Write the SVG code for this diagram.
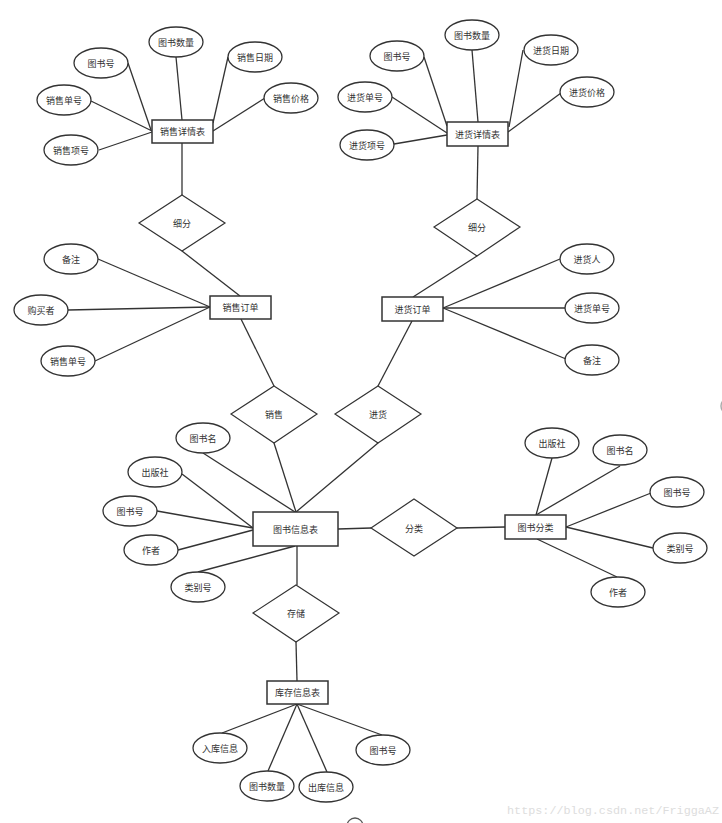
<svg xmlns="http://www.w3.org/2000/svg" width="722" height="823" viewBox="0 0 722 823">
<style>
.e{fill:#fff;stroke:#333;stroke-width:1.3}
.r{fill:#fff;stroke:#333;stroke-width:1.5}
.d{fill:#fff;stroke:#333;stroke-width:1.2}
.c line{stroke:#333;stroke-width:1.3}
text{font-family:"Noto Sans CJK SC","Noto Sans",sans-serif;font-size:9px;fill:#333;text-anchor:middle;dominant-baseline:central}
.wm{font-family:"Liberation Mono",monospace;font-size:11.5px;fill:#ddd;text-anchor:start;dominant-baseline:auto}
</style>
<rect width="722" height="823" fill="#fff"/>
<g id="connectors" class="c">
<line x1="128" y1="63" x2="151" y2="130"/>
<line x1="176" y1="57" x2="182" y2="120"/>
<line x1="228" y1="57" x2="213" y2="123"/>
<line x1="265" y1="98" x2="213" y2="131"/>
<line x1="91" y1="101" x2="152" y2="131"/>
<line x1="99" y1="150" x2="152" y2="132"/>
<line x1="182" y1="143" x2="182" y2="195"/>
<line x1="182" y1="251" x2="240" y2="296"/>
<line x1="98" y1="259" x2="210" y2="307"/>
<line x1="68" y1="310" x2="210" y2="307"/>
<line x1="95" y1="361" x2="210" y2="307"/>
<line x1="241" y1="319" x2="274" y2="386"/>
<line x1="424" y1="57" x2="447" y2="126"/>
<line x1="472" y1="50" x2="478" y2="122"/>
<line x1="523" y1="50" x2="509" y2="127"/>
<line x1="561" y1="93" x2="508" y2="132"/>
<line x1="392" y1="97" x2="447" y2="133"/>
<line x1="394" y1="144" x2="447" y2="135"/>
<line x1="478" y1="146" x2="477" y2="199"/>
<line x1="477" y1="256" x2="413" y2="297"/>
<line x1="443" y1="308" x2="560" y2="259"/>
<line x1="443" y1="308" x2="566" y2="308"/>
<line x1="443" y1="308" x2="566" y2="359"/>
<line x1="412" y1="321" x2="378" y2="386"/>
<line x1="274" y1="443" x2="296" y2="512"/>
<line x1="378" y1="443" x2="296" y2="512"/>
<line x1="203" y1="453" x2="295" y2="512"/>
<line x1="182" y1="474" x2="253" y2="528"/>
<line x1="157" y1="511" x2="253" y2="528"/>
<line x1="178" y1="550" x2="253" y2="530"/>
<line x1="198" y1="572" x2="295" y2="546"/>
<line x1="297" y1="546" x2="297" y2="585"/>
<line x1="338" y1="529" x2="371" y2="528"/>
<line x1="457" y1="528" x2="505" y2="527"/>
<line x1="552" y1="458" x2="536" y2="515"/>
<line x1="620" y1="466" x2="536" y2="515"/>
<line x1="651" y1="493" x2="566" y2="527"/>
<line x1="653" y1="548" x2="566" y2="527"/>
<line x1="617" y1="577" x2="537" y2="539"/>
<line x1="296" y1="642" x2="297" y2="681"/>
<line x1="297" y1="704" x2="222" y2="733"/>
<line x1="297" y1="704" x2="268" y2="771"/>
<line x1="297" y1="704" x2="327" y2="772"/>
<line x1="297" y1="704" x2="382" y2="735"/>
</g>
<g id="n-xsxqb"><rect class="r" x="152" y="120" width="61" height="23"/><text x="182.5" y="131.5">销售详情表</text></g>
<g id="a-ts-num1"><ellipse class="e" cx="176" cy="42" rx="27" ry="15"/><text x="176" y="42">图书数量</text></g>
<g id="a-tsh1"><ellipse class="e" cx="101" cy="63" rx="27" ry="15"/><text x="101" y="63">图书号</text></g>
<g id="a-xsrq"><ellipse class="e" cx="255" cy="57" rx="27" ry="15"/><text x="255" y="57">销售日期</text></g>
<g id="a-xsdh1"><ellipse class="e" cx="64" cy="100" rx="27" ry="15"/><text x="64" y="100">销售单号</text></g>
<g id="a-xsjg"><ellipse class="e" cx="291" cy="98" rx="27" ry="15"/><text x="291" y="98">销售价格</text></g>
<g id="a-xsxh"><ellipse class="e" cx="71" cy="150" rx="27" ry="15"/><text x="71" y="150">销售项号</text></g>
<g id="r-xf1"><polygon class="d" points="182,195 225,223 182,251 139,223"/><text x="182" y="223">细分</text></g>
<g id="n-xsdd"><rect class="r" x="210" y="296" width="61" height="23"/><text x="240.5" y="307.5">销售订单</text></g>
<g id="a-bz1"><ellipse class="e" cx="71" cy="259" rx="27" ry="15"/><text x="71" y="259">备注</text></g>
<g id="a-gmz"><ellipse class="e" cx="41" cy="310" rx="27" ry="15"/><text x="41" y="310">购买者</text></g>
<g id="a-xsdh2"><ellipse class="e" cx="68" cy="361" rx="27" ry="15"/><text x="68" y="361">销售单号</text></g>
<g id="n-jhxqb"><rect class="r" x="447" y="122" width="61" height="24"/><text x="477.5" y="134">进货详情表</text></g>
<g id="a-ts-num2"><ellipse class="e" cx="472" cy="35" rx="27" ry="15"/><text x="472" y="35">图书数量</text></g>
<g id="a-tsh2"><ellipse class="e" cx="397" cy="56" rx="27" ry="15"/><text x="397" y="56">图书号</text></g>
<g id="a-jhrq"><ellipse class="e" cx="551" cy="50" rx="27" ry="15"/><text x="551" y="50">进货日期</text></g>
<g id="a-jhdh1"><ellipse class="e" cx="365" cy="97" rx="27" ry="15"/><text x="365" y="97">进货单号</text></g>
<g id="a-jhjg"><ellipse class="e" cx="587" cy="92" rx="27" ry="15"/><text x="587" y="92">进货价格</text></g>
<g id="a-jhxh"><ellipse class="e" cx="367" cy="145" rx="27" ry="15"/><text x="367" y="145">进货项号</text></g>
<g id="r-xf2"><polygon class="d" points="477,199 520,227 477,256 434,227"/><text x="477" y="227">细分</text></g>
<g id="n-jhdd"><rect class="r" x="382" y="297" width="61" height="24"/><text x="412.5" y="309">进货订单</text></g>
<g id="a-jhr"><ellipse class="e" cx="587" cy="259" rx="27" ry="15"/><text x="587" y="259">进货人</text></g>
<g id="a-jhdh2"><ellipse class="e" cx="592" cy="308" rx="27" ry="15"/><text x="592" y="308">进货单号</text></g>
<g id="a-bz2"><ellipse class="e" cx="592" cy="360" rx="27" ry="15"/><text x="592" y="360">备注</text></g>
<g id="r-xs"><polygon class="d" points="274,386 317,414 274,443 231,414"/><text x="274" y="414">销售</text></g>
<g id="r-jh"><polygon class="d" points="378,386 421,414 378,443 335,414"/><text x="378" y="414">进货</text></g>
<g id="n-tsxxb"><rect class="r" x="253" y="512" width="85" height="34"/><text x="295.5" y="529">图书信息表</text></g>
<g id="a-tsm1"><ellipse class="e" cx="203" cy="438" rx="27" ry="15"/><text x="203" y="438">图书名</text></g>
<g id="a-cbs1"><ellipse class="e" cx="155" cy="472" rx="27" ry="15"/><text x="155" y="472">出版社</text></g>
<g id="a-tsh3"><ellipse class="e" cx="130" cy="511" rx="27" ry="15"/><text x="130" y="511">图书号</text></g>
<g id="a-zz1"><ellipse class="e" cx="151" cy="550" rx="27" ry="15"/><text x="151" y="550">作者</text></g>
<g id="a-lbh1"><ellipse class="e" cx="198" cy="587" rx="27" ry="15"/><text x="198" y="587">类别号</text></g>
<g id="r-fl"><polygon class="d" points="414,499 457,528 414,556 371,528"/><text x="414" y="528">分类</text></g>
<g id="n-tsfl"><rect class="r" x="505" y="515" width="61" height="24"/><text x="535.5" y="527">图书分类</text></g>
<g id="a-cbs2"><ellipse class="e" cx="552" cy="443" rx="27" ry="15"/><text x="552" y="443">出版社</text></g>
<g id="a-tsm2"><ellipse class="e" cx="620" cy="450" rx="27" ry="15"/><text x="620" y="450">图书名</text></g>
<g id="a-tsh4"><ellipse class="e" cx="677" cy="492" rx="27" ry="15"/><text x="677" y="492">图书号</text></g>
<g id="a-lbh2"><ellipse class="e" cx="680" cy="548" rx="27" ry="15"/><text x="680" y="548">类别号</text></g>
<g id="a-zz2"><ellipse class="e" cx="618" cy="592" rx="27" ry="15"/><text x="618" y="592">作者</text></g>
<g id="r-cc"><polygon class="d" points="296,585 339,613 296,642 253,613"/><text x="296" y="613">存储</text></g>
<g id="n-kcxxb"><rect class="r" x="267" y="681" width="61" height="23"/><text x="297.5" y="692.5">库存信息表</text></g>
<g id="a-rkxx"><ellipse class="e" cx="220" cy="748" rx="27" ry="15"/><text x="220" y="748">入库信息</text></g>
<g id="a-ts-num3"><ellipse class="e" cx="267" cy="786" rx="27" ry="15"/><text x="267" y="786">图书数量</text></g>
<g id="a-ckxx"><ellipse class="e" cx="326" cy="787" rx="27" ry="15"/><text x="326" y="787">出库信息</text></g>
<g id="a-tsh5"><ellipse class="e" cx="383" cy="750" rx="27" ry="15"/><text x="383" y="750">图书号</text></g>
<circle cx="355" cy="826" r="8" fill="none" stroke="#555" stroke-width="1.3"/>
<circle cx="729" cy="406" r="8" fill="none" stroke="#aaa" stroke-width="1.5"/>
<text class="wm" x="507" y="814" textLength="212" lengthAdjust="spacingAndGlyphs">https://blog.csdn.net/FriggaAZ</text>
</svg>
